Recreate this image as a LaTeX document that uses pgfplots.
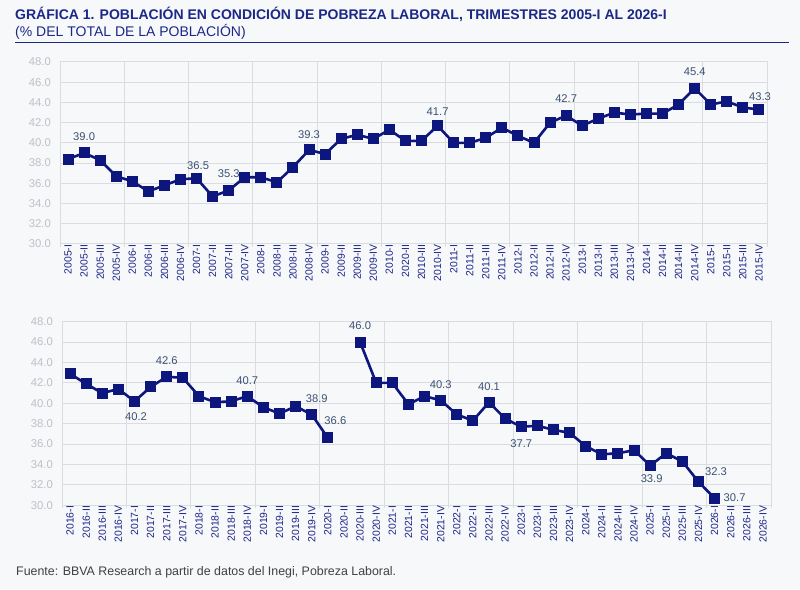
\documentclass[border=0pt]{standalone}
\usepackage{fontspec}
\setmainfont{Liberation Sans}
\usepackage{pgfplots}
\pgfplotsset{compat=1.18}
\usepackage{pgfplotstable}

\definecolor{bg}{RGB}{247,248,250}
\definecolor{titlecol}{RGB}{28,40,135}
\definecolor{linecol}{RGB}{12,22,125}
\definecolor{xlab}{RGB}{28,36,135}
\definecolor{ylab}{RGB}{188,192,198}
\definecolor{gridcol}{RGB}{218,220,224}
\definecolor{vallab}{RGB}{60,82,115}
\definecolor{foot}{RGB}{64,64,64}

% Poblacion en pobreza laboral, 2005-I a 2015-IV
\pgfplotstableread{
idx val
0 38.4
1 39.0
2 38.3
3 36.7
4 36.2
5 35.2
6 35.8
7 36.4
8 36.5
9 34.7
10 35.3
11 36.6
12 36.6
13 36.1
14 37.6
15 39.3
16 38.9
17 40.4
18 40.8
19 40.4
20 41.3
21 40.2
22 40.2
23 41.7
24 40.0
25 40.0
26 40.5
27 41.5
28 40.7
29 40.0
30 42.0
31 42.7
32 41.7
33 42.4
34 43.0
35 42.8
36 42.9
37 42.9
38 43.8
39 45.4
40 43.8
41 44.1
42 43.5
43 43.3
}\topdata

% 2016-I a 2026-I (sin dato en 2020-II)
\pgfplotstableread{
idx val
0 42.9
1 41.9
2 41.0
3 41.4
4 40.2
5 41.6
6 42.6
7 42.5
8 40.7
9 40.1
10 40.2
11 40.7
12 39.6
13 39.0
14 39.7
15 38.9
16 36.6
17 nan
18 46.0
19 42.0
20 42.0
21 39.9
22 40.7
23 40.3
24 38.9
25 38.3
26 40.1
27 38.5
28 37.7
29 37.8
30 37.4
31 37.1
32 35.8
33 35.0
34 35.1
35 35.4
36 33.9
37 35.1
38 34.3
39 32.3
40 30.7
}\botdata

\tikzset{lbl/.style={font=\fontsize{11.2}{12}\selectfont, text=vallab, inner sep=0pt}}

\pgfplotsset{
  panel/.style={
    scale only axis,
    xmin=-0.5, xmax=43.5, ymin=30, ymax=48,
    xtick={0,...,43},
    minor xtick={-0.5,3.5,...,43.5},
    xminorgrids, ymajorgrids,
    ytick={30,32,...,48},
    yticklabels={30.0,32.0,34.0,36.0,38.0,40.0,42.0,44.0,46.0,48.0},
    major tick length=0pt, minor tick length=3pt,
    tick align=outside, xtick pos=bottom, ytick pos=left,
    axis line style={gridcol, line width=1pt},
    major grid style={gridcol, line width=1pt},
    minor grid style={gridcol, line width=1pt},
    every minor tick/.style={gridcol, line width=1pt},
    axis background/.style={fill=bg},
    xticklabel style={rotate=90, anchor=east, inner sep=0pt, xshift=-0.5pt,
      font=\fontsize{10.4}{11}\selectfont, text=xlab},
    yticklabel style={anchor=east, inner sep=0pt, xshift=-9pt,
      font=\fontsize{11.3}{12}\selectfont, text=ylab},
    unbounded coords=jump,
    clip=false,
  },
  serie/.style={linecol, line width=2.6pt, mark=square*, mark size=4.2pt,
    mark options={solid, fill=linecol}},
}

\begin{document}
\begin{tikzpicture}[x=1pt,y=1pt]
\fill[bg] (0,0) rectangle (800,589);

\node[anchor=base west, inner sep=0pt, text=titlecol,
  font=\bfseries\fontsize{14}{16}\selectfont] at (15,569.5)
  {GRÁFICA 1. POBLACIÓN EN CONDICIÓN DE POBREZA LABORAL, TRIMESTRES 2005-I AL 2026-I};
\node[anchor=base west, inner sep=0pt, text=titlecol,
  font=\fontsize{14}{16}\selectfont] at (15,552.5)
  {(\% DEL TOTAL DE LA POBLACIÓN)};
\draw[titlecol, line width=1.5pt] (15,546.5) -- (789,546.5);

\begin{axis}[panel, at={(60pt,345pt)}, anchor=south west,
  width=707pt, height=182pt,
  xticklabels={2005-I,2005-II,2005-III,2005-IV,2006-I,2006-II,2006-III,2006-IV,
    2007-I,2007-II,2007-III,2007-IV,2008-I,2008-II,2008-III,2008-IV,
    2009-I,2009-II,2009-III,2009-IV,2010-I,2020-II,2010-III,2010-IV,
    2011-I,2011-II,2011-III,2011-IV,2012-I,2012-II,2012-III,2012-IV,
    2013-I,2013-II,2013-III,2013-IV,2014-I,2014-II,2014-III,2014-IV,
    2015-I,2015-II,2015-III,2015-IV}]
\addplot[serie] table[x=idx, y=val] {\topdata};
\node[lbl] at (axis cs:1,39.0) [yshift=16pt] {39.0};
\node[lbl] at (axis cs:8,36.5) [yshift=13pt, xshift=1.5pt] {36.5};
\node[lbl] at (axis cs:10,35.3) [yshift=16.5pt] {35.3};
\node[lbl] at (axis cs:15,39.3) [yshift=15.5pt] {39.3};
\node[lbl] at (axis cs:23,41.7) [yshift=14.5pt] {41.7};
\node[lbl] at (axis cs:31,42.7) [yshift=16.5pt] {42.7};
\node[lbl] at (axis cs:39,45.4) [yshift=16.5pt] {45.4};
\node[lbl] at (axis cs:43,43.3) [yshift=13pt, xshift=1pt] {43.3};
\end{axis}

\begin{axis}[panel, at={(62pt,83.7pt)}, anchor=south west,
  width=709pt, height=183.6pt,
  xticklabels={2016-I,2016-II,2016-III,2016-IV,2017-I,2017-II,2017-III,2017-IV,
    2018-I,2018-II,2018-III,2018-IV,2019-I,2019-II,2019-III,2019-IV,
    2020-I,2020-II,2020-III,2020-IV,2021-I,2021-II,2021-III,2021-IV,
    2022-I,2022-II,2022-III,2022-IV,2023-I,2023-II,2023-III,2023-IV,
    2024-I,2024-II,2024-III,2024-IV,2025-I,2025-II,2025-III,2025-IV,
    2026-I,2026-II,2026-III,2026-IV}]
\addplot[serie] table[x=idx, y=val] {\botdata};
\node[lbl] at (axis cs:4,40.2) [yshift=-15.5pt, xshift=1.5pt] {40.2};
\node[lbl] at (axis cs:6,42.6) [yshift=16pt] {42.6};
\node[lbl] at (axis cs:11,40.7) [yshift=16pt] {40.7};
\node[lbl] at (axis cs:15,38.9) [yshift=16pt, xshift=5pt] {38.9};
\node[lbl] at (axis cs:16,36.6) [yshift=17pt, xshift=7.5pt] {36.6};
\node[lbl] at (axis cs:18,46.0) [yshift=16pt] {46.0};
\node[lbl] at (axis cs:23,40.3) [yshift=15.5pt] {40.3};
\node[lbl] at (axis cs:26,40.1) [yshift=16pt] {40.1};
\node[lbl] at (axis cs:28,37.7) [yshift=-17pt] {37.7};
\node[lbl] at (axis cs:36,33.9) [yshift=-13.5pt, xshift=1.5pt] {33.9};
\node[lbl] at (axis cs:39,32.3) [yshift=10pt, xshift=17.5pt] {32.3};
\node[lbl] at (axis cs:40,30.7) [yshift=1pt, xshift=20pt] {30.7};
\end{axis}

\node[anchor=base west, inner sep=0pt, text=foot,
  font=\fontsize{12.4}{14}\selectfont] at (16,14)
  {Fuente: BBVA Research a partir de datos del Inegi, Pobreza Laboral.};
\end{tikzpicture}
\end{document}
